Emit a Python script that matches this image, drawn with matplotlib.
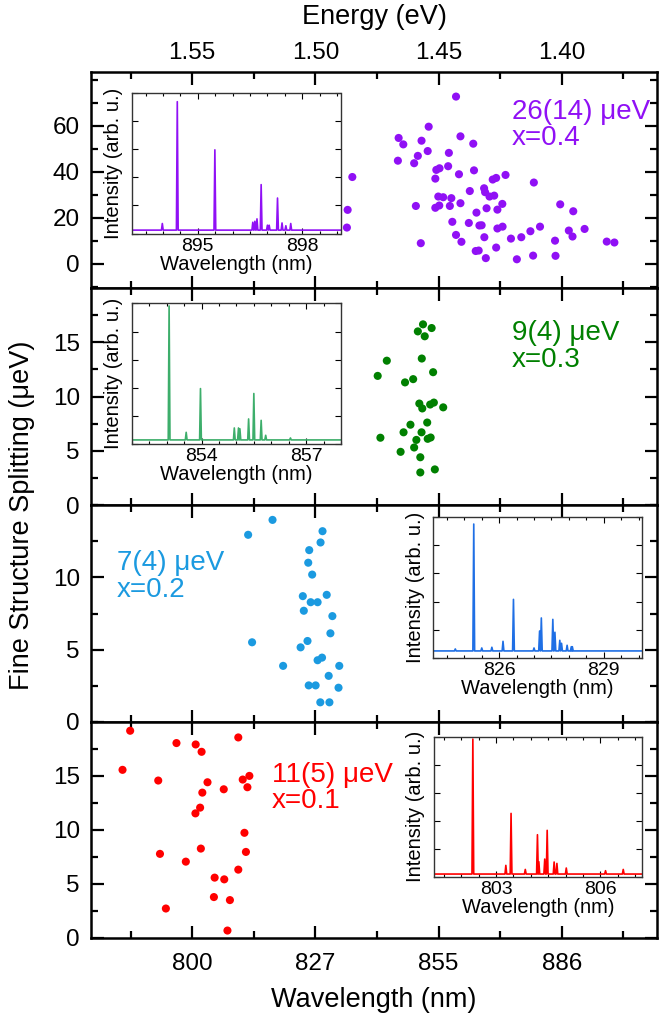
import matplotlib
matplotlib.use("Agg")
import matplotlib.pyplot as plt
from matplotlib.ticker import MultipleLocator, FixedLocator

plt.rcParams['font.family'] = ['Liberation Sans', 'DejaVu Sans']

HC = 1239.84  # eV*nm

# ---- fine structure splitting vs emission energy ----
e_04 = [1.4951, 1.4869, 1.4872, 1.4850, 1.4662, 1.4643, 1.4665, 1.4584, 1.4599, 1.4569,
        1.4544, 1.4540, 1.4572, 1.4592, 1.4509, 1.4496, 1.4513, 1.4501, 1.4481, 1.4497,
        1.4513, 1.4454, 1.4448, 1.4461, 1.4458, 1.4429, 1.4411, 1.4359, 1.4356, 1.4417,
        1.4411, 1.4444, 1.4429, 1.4407, 1.4373, 1.4377, 1.4346, 1.4349, 1.4337, 1.4325,
        1.4334, 1.4314, 1.4308, 1.4315, 1.4311, 1.4305, 1.4293, 1.4266, 1.4280, 1.4274,
        1.4261, 1.4241, 1.4228, 1.4266, 1.4261, 1.4240, 1.4206, 1.4182, 1.4164, 1.4127,
        1.4113, 1.4088, 1.4116, 1.4027, 1.4025, 1.4006, 1.3971, 1.3956, 1.3953, 1.3907,
        1.3817, 1.3786]
fss_04 = [32.9, 23.5, 15.8, 37.8, 54.8, 52.0, 44.9, 47.0, 43.8, 53.6,
          49.1, 59.7, 9.0, 25.2, 40.9, 41.6, 37.1, 29.3, 29.0, 25.4,
          24.4, 25.2, 28.6, 42.5, 48.3, 72.8, 55.5, 52.3, 40.7, 39.0,
          26.4, 18.3, 12.6, 9.6, 31.7, 17.8, 22.3, 5.6, 5.8, 16.8,
          16.7, 11.6, 2.5, 32.9, 31.2, 24.2, 29.3, 37.4, 36.7, 29.7,
          23.6, 26.1, 38.7, 7.1, 15.4, 16.2, 11.0, 2.0, 11.6, 14.2,
          35.4, 16.2, 3.6, 10.1, 3.5, 25.9, 14.5, 11.9, 22.9, 15.2,
          9.7, 9.3]

e_03 = [1.4747, 1.4736, 1.4710, 1.4654, 1.4642, 1.4636, 1.4614, 1.4603, 1.4599, 1.4590,
        1.4584, 1.4578, 1.4574, 1.4574, 1.4569, 1.4568, 1.4566, 1.4563, 1.4556, 1.4546,
        1.4544, 1.4534, 1.4532, 1.4528, 1.4522, 1.4519, 1.4515, 1.4481]
fss_03 = [11.9, 6.2, 13.3, 4.9, 6.7, 11.3, 7.4, 11.6, 5.3, 6.0,
          16.0, 9.35, 4.4, 3.0, 6.7, 13.5, 8.9, 16.65, 15.55, 7.6,
          6.1, 9.26, 6.22, 16.31, 12.24, 9.44, 3.28, 9.0]

e_02 = [1.5174, 1.5273, 1.4971, 1.4979, 1.5025, 1.5029, 1.5013, 1.5051, 1.5019, 1.4991,
        1.4954, 1.5047, 1.4931, 1.5257, 1.5032, 1.5060, 1.4939, 1.4991, 1.4973, 1.5131,
        1.4903, 1.4946, 1.5027, 1.4999, 1.4906, 1.4980, 1.4943]
fss_02 = [13.97, 12.94, 13.19, 12.41, 11.88, 11.01, 10.19, 8.70, 8.28, 8.28,
          8.79, 7.69, 7.32, 5.51, 5.60, 5.16, 6.13, 4.27, 4.45, 3.88,
          3.88, 3.19, 2.53, 2.53, 2.37, 1.36, 1.36]

e_01 = [1.5752, 1.5783, 1.5564, 1.5486, 1.5462, 1.5638, 1.5438, 1.5313, 1.5459, 1.5372,
        1.5295, 1.5268, 1.5276, 1.5468, 1.5487, 1.5288, 1.5631, 1.5465, 1.5282, 1.5526,
        1.5313, 1.5409, 1.5370, 1.5412, 1.5347, 1.5607, 1.5357]
fss_01 = [19.19, 15.57, 18.05, 17.92, 17.24, 14.58, 14.42, 18.57, 13.46, 13.77,
          14.67, 15.01, 13.96, 12.07, 11.54, 9.74, 7.79, 8.28, 7.97, 7.07,
          6.33, 5.59, 5.43, 3.79, 3.51, 2.73, 0.69]

labels_fss = ["26(14) \u03bceV", "9(4) \u03bceV", "7(4) \u03bceV", "11(5) \u03bceV"]
labels_x = ["x=0.4", "x=0.3", "x=0.2", "x=0.1"]

# ---- inset spectra: peak wavelength (nm), peak height (fraction of inset) ----
spec_04_wl = [893.98, 894.41, 895.49, 896.58, 896.64, 896.70, 896.82, 897.00, 897.05,
              897.29, 897.42, 897.53, 897.67]
spec_04_h = [0.071, 0.936, 0.594, 0.08, 0.087, 0.104, 0.347, 0.059, 0.059,
             0.252, 0.075, 0.055, 0.071]
spec_04_base = 0.024

spec_03_wl = [853.07, 853.56, 853.97, 854.94, 855.06, 855.10, 855.35, 855.50, 855.71,
              855.84, 856.55]
spec_03_h = [0.981, 0.085, 0.395, 0.116, 0.116, 0.11, 0.18, 0.36, 0.17, 0.064, 0.045]
spec_03_base = 0.031

spec_02_wl = [824.74, 825.27, 825.50, 825.79, 826.11, 826.41, 827.00, 827.16, 827.21,
              827.54, 827.60, 827.74, 827.79, 827.95, 828.07, 828.10]
spec_02_h = [0.066, 0.948, 0.073, 0.078, 0.12, 0.416, 0.073, 0.193, 0.285,
             0.275, 0.184, 0.127, 0.106, 0.092, 0.082, 0.082]
spec_02_base = 0.052

spec_01_wl = [802.33, 803.28, 803.43, 803.84, 804.19, 804.23, 804.40, 804.47, 804.67,
              804.75, 805.02, 806.15, 806.66]
spec_01_h = [0.983, 0.081, 0.452, 0.052, 0.30, 0.107, 0.126, 0.331, 0.105,
             0.095, 0.062, 0.043, 0.052]
spec_01_base = 0.019

energy_ticks = [1.55, 1.50, 1.45, 1.40]

W, H = 659, 1019
fig = plt.figure(figsize=(W / 100, H / 100), dpi=100)


def px_rect(x0, y0, x1, y1):
    return [x0 / W, 1 - y1 / H, (x1 - x0) / W, (y1 - y0) / H]


panels = [
    dict(e=e_04, f=fss_04, c='#9010F5', sc='#9010F5', ylim=(-10.5, 83.5), maj=20, mnr=10,
         ylab=[0, 20, 40, 60], top=72, bot=288, txt=(0.7435, 0.817, 0.694),
         inset=(131.7, 92.7, 340.5, 233.5), ixlim=(893.1, 899.1), ixt=[895, 898],
         spec=(spec_04_wl, spec_04_h, spec_04_base)),
    dict(e=e_03, f=fss_03, c='#008000', sc='#3DAE6B', ylim=(0, 20), maj=5, mnr=2.5,
         ylab=[0, 5, 10, 15], top=288, bot=505, txt=(0.7435, 0.792, 0.667),
         inset=(131.8, 303.3, 341, 444.3), ixlim=(852.0, 858.0), ixt=[854, 857],
         spec=(spec_03_wl, spec_03_h, spec_03_base)),
    dict(e=e_02, f=fss_02, c='#1B9AE0', sc='#1F6FE5', ylim=(0, 15), maj=5, mnr=2.5,
         ylab=[0, 5, 10], top=505, bot=722, txt=(0.046, 0.732, 0.607),
         inset=(433, 516.7, 642, 658.3), ixlim=(824.1, 830.1), ixt=[826, 829],
         spec=(spec_02_wl, spec_02_h, spec_02_base)),
    dict(e=e_01, f=fss_01, c='#FF0000', sc='#FF0000', ylim=(0, 20), maj=5, mnr=2.5,
         ylab=[0, 5, 10, 15], top=722, bot=938, txt=(0.32, 0.755, 0.632),
         inset=(433.6, 736.7, 642, 876.7), ixlim=(801.2, 807.2), ixt=[803, 806],
         spec=(spec_01_wl, spec_01_h, spec_01_base)),
]

for i, p in enumerate(panels):
    ax = fig.add_axes(px_rect(91, p['top'], 657, p['bot']))
    ax.scatter(p['e'], p['f'], s=34, color=p['c'], edgecolors='none', zorder=3)
    ax.set_xlim(1.5911, 1.3613)
    ax.set_ylim(*p['ylim'])
    ax.xaxis.set_major_locator(FixedLocator(energy_ticks))
    ax.xaxis.set_minor_locator(MultipleLocator(0.025))
    ax.yaxis.set_major_locator(FixedLocator(p['ylab']))
    ax.yaxis.set_minor_locator(MultipleLocator(p['mnr']))
    ax.tick_params(which='both', direction='in', top=True, right=True, width=1.6,
                   labelsize=17.5, pad=8)
    ax.tick_params(which='major', length=9)
    ax.tick_params(which='minor', length=5)
    for s in ax.spines.values():
        s.set_linewidth(1.8)
    ax.tick_params(axis='x', labelbottom=(i == 3), labeltop=(i == 0))
    if i == 0:
        ax.set_xticklabels(['%.2f' % e for e in energy_ticks])
        ax.tick_params(axis='x', pad=6)
    elif i == 3:
        ax.set_xticklabels(['%d' % round(HC / e) for e in energy_ticks])
        ax.tick_params(axis='x', pad=11)

    tx, ty1, ty2 = p['txt']
    ax.text(tx, ty1, labels_fss[i], transform=ax.transAxes, color=p['c'],
            fontsize=20, va='center', ha='left')
    ax.text(tx, ty2, labels_x[i], transform=ax.transAxes, color=p['c'],
            fontsize=20, va='center', ha='left')

    # inset spectrum
    x0, y0, x1, y1 = p['inset']
    ins = fig.add_axes(px_rect(x0, y0, x1, y1))
    wl, hh, base = p['spec']
    xs = [p['ixlim'][0]]
    ys = [base]
    for w, h in sorted(zip(wl, hh)):
        xs += [w - 0.025, w, w + 0.025]
        ys += [base, h, base]
    xs.append(p['ixlim'][1])
    ys.append(base)
    ins.plot(xs, ys, color=p['sc'], lw=1.2)
    ins.set_xlim(*p['ixlim'])
    ins.set_ylim(0, 1)
    ins.xaxis.set_major_locator(FixedLocator(p['ixt']))
    ins.xaxis.set_minor_locator(MultipleLocator(0.5))
    ins.yaxis.set_major_locator(MultipleLocator(0.2))
    ins.set_yticklabels([])
    ins.tick_params(which='both', direction='in', top=True, right=True, width=0.8,
                    labelsize=14, pad=3)
    ins.tick_params(which='major', length=4)
    ins.tick_params(which='minor', length=2.5)
    for s in ins.spines.values():
        s.set_linewidth(1.0)
        s.set_color('#333333')
    ins.set_xlabel('Wavelength (nm)', fontsize=14.5, labelpad=0)
    ins.set_ylabel('Intensity (arb. u.)', fontsize=14.5, labelpad=3)

fig.text(374 / W, 1 - 17 / H, 'Energy (eV)', fontsize=19.5, ha='center', va='center')
fig.text(374 / W, 1 - 1000 / H, 'Wavelength (nm)', fontsize=19.5, ha='center', va='center')
fig.text(22 / W, 1 - 515 / H, 'Fine Structure Splitting (\u03bceV)', fontsize=19.5,
         ha='center', va='center', rotation=90)

fig.savefig('out.png', dpi=100)
